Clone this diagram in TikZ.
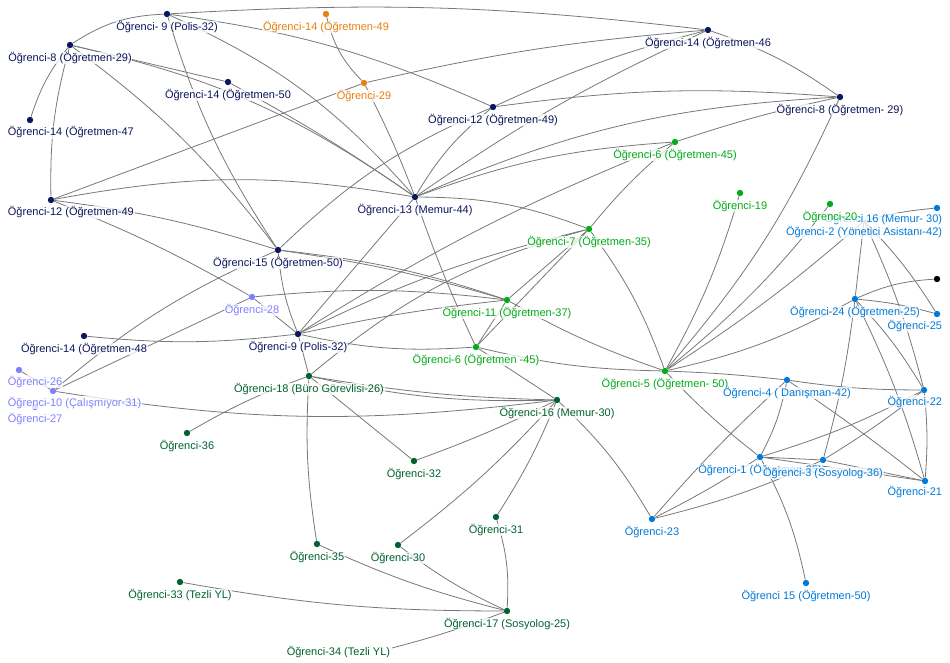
\documentclass[tikz,border=0pt]{standalone}
\usepackage{fontspec}
\setmainfont{Liberation Sans}
\usepackage{xcolor}
\usetikzlibrary{calc}
\pgfdeclarelayer{links}
\pgfsetlayers{links,main}
\definecolor{ogrNavy}{RGB}{12,22,92}
\definecolor{ogrOrange}{RGB}{232,128,12}
\definecolor{ogrLilac}{RGB}{128,128,255}
\definecolor{ogrGreen}{RGB}{0,172,24}
\definecolor{ogrPine}{RGB}{0,98,48}
\definecolor{ogrBlue}{RGB}{0,122,218}
\definecolor{linkgray}{RGB}{120,120,120}
\tikzset{
  dot/.style={circle,fill=#1,inner sep=0pt,minimum size=4.8pt},
  lbl/.style={text=#1,anchor=base,font=\fontsize{8.25}{10}\selectfont,
    fill=white,fill opacity=0.75,text opacity=1,inner sep=0.5pt},
  link/.style={draw=linkgray,line width=0.6pt}
}

\begin{document}
\begin{tikzpicture}[x=0.75pt,y=-0.75pt]
\useasboundingbox (0,0) rectangle (950,663);
% dots
\node[dot=ogrNavy] (n9top) at (167,14) {};
\node[dot=ogrNavy] (n8a) at (70,45) {};
\node[dot=ogrNavy] (n1447) at (30,120) {};
\node[dot=ogrNavy] (n1450) at (228,82) {};
\node[dot=ogrNavy] (n1249a) at (51,200) {};
\node[dot=ogrNavy] (n1446) at (708,30) {};
\node[dot=ogrNavy] (n1249b) at (493,107) {};
\node[dot=ogrNavy] (n8b) at (840,97) {};
\node[dot=ogrNavy] (n13) at (415,197) {};
\node[dot=ogrNavy] (n15) at (278,250) {};
\node[dot=ogrNavy] (n9) at (298,334) {};
\node[dot=ogrNavy] (n1448) at (84,336) {};
\node[dot=black] (blk) at (937,279) {};
\node[dot=ogrOrange] (o1449) at (326,14) {};
\node[dot=ogrOrange] (o29) at (364,83) {};
\node[dot=ogrLilac] (p28) at (252,297) {};
\node[dot=ogrLilac] (p26) at (19,370) {};
\node[dot=ogrLilac] (p10) at (53,391) {};
\node[dot=ogrLilac] (p27) at (35,407) {};
\node[dot=ogrGreen] (g645a) at (675,142) {};
\node[dot=ogrGreen] (g19) at (740,193) {};
\node[dot=ogrGreen] (g20) at (830,204) {};
\node[dot=ogrGreen] (g7) at (589,229) {};
\node[dot=ogrGreen] (g11) at (507,300) {};
\node[dot=ogrGreen] (g645b) at (476,347) {};
\node[dot=ogrGreen] (g5) at (665,371) {};
\node[dot=ogrPine] (d18) at (309,376) {};
\node[dot=ogrPine] (d16) at (557,400) {};
\node[dot=ogrPine] (d36) at (187,433) {};
\node[dot=ogrPine] (d32) at (414,461) {};
\node[dot=ogrPine] (d31) at (496,517) {};
\node[dot=ogrPine] (d35) at (317,544) {};
\node[dot=ogrPine] (d30) at (398,545) {};
\node[dot=ogrPine] (d33) at (180,582) {};
\node[dot=ogrPine] (d17) at (507,611) {};
\coordinate (d34) at (392,648);
\node[dot=ogrBlue] (b16) at (937,208) {};
\coordinate (b2) at (864,221);
\node[dot=ogrBlue] (b24) at (855,299) {};
\node[dot=ogrBlue] (b25) at (937,314) {};
\node[dot=ogrBlue] (b4) at (787,380) {};
\node[dot=ogrBlue] (b22) at (924,390) {};
\node[dot=ogrBlue] (b1) at (760,457) {};
\node[dot=ogrBlue] (b3) at (823,460) {};
\node[dot=ogrBlue] (b21) at (925,481) {};
\node[dot=ogrBlue] (b23) at (652,519) {};
\node[dot=ogrBlue] (b15) at (806,583) {};

\begin{pgfonlayer}{links}
% top part
\draw[link] (n9top) to[bend left=5] (n1446);
\draw[link] (n9top) to[bend left=8] (n1249b);
\draw[link] (n9top) to[bend left=12] (n13);
\draw[link] (n9top) to[bend right=8] (n15);
\draw[link] (n8a) to[bend left=15] (n9top);
\draw[link] (n8a) to[bend right=10] (n1447);
\draw[link] (n8a) to[bend right=8] (n1249a);
\draw[link] (n8a) -- (n1450);
\draw[link] (n8a) to[bend left=8] (n15);
\draw[link] (n8a) to[bend left=11] (n13);
\draw[link] (n1450) to[bend left=3] (n13);
\draw[link] (o1449) to[bend right=15] (o29);
\draw[link] (o29) -- (n1249a);
\draw[link] (o29) to[bend left=4] (n1446);
\draw[link] (o29) to[bend left=3] (n13);
\draw[link] (n13) to[bend left=10] (n1249b);
\draw[link] (n1249b) to[bend left=5] (n1446);
\draw[link] (n13) to[bend left=5] (n1446);
\draw[link] (n1249b) to[bend left=6] (n8b);
\draw[link] (n13) to[bend left=10] (n8b);
\draw[link] (n1446) to[bend left=8] (n8b);
\draw[link] (g645a) to[bend left=3] (n8b);
\draw[link] (g645a) to[bend right=5] (g7);
\draw[link] (n13) to[bend left=8] (g645a);
\draw[link] (n1249a) to[bend left=10] (n13);
\draw[link] (n13) to[bend left=10] (g7);
\draw[link] (n1249a) to[bend left=4] (p28);
\draw[link] (n1249a) to[bend left=5] (n15);
\draw[link] (n15) to[bend left=10] (n1249b);
\draw[link] (n15) to[bend left=6] (g11);
\draw[link] (n15) to[bend left=4] (g11);
\draw[link] (n15) to[bend right=8] (n9);
\draw[link] (n15) to[bend right=8] (p10);
% middle part
\draw[link] (p28) -- (p10);
\draw[link] (p26) -- (p10);
\draw[link] (p10) to[bend right=8] (d16);
\draw[link] (p28) -- (n9);
\draw[link] (p28) to[bend left=6] (g11);
\draw[link] (n1448) to[bend right=6] (n9);
\draw[link] (n9) -- (n13);
\draw[link] (n9) to[bend left=5] (g645a);
\draw[link] (n9) to[bend left=6] (g7);
\draw[link] (n9) to[bend left=3] (g11);
\draw[link] (n9) to[bend right=8] (g645b);
\draw[link] (n9) -- (d18);
\draw[link] (n13) to[bend right=3] (g645b);
\draw[link] (d18) to[bend left=12] (g7);
\draw[link] (g11) -- (g7);
\draw[link] (g645b) -- (g7);
\draw[link] (g11) -- (g645b);
\draw[link] (g11) to[bend right=5] (g5);
\draw[link] (g645b) to[bend right=6] (g5);
\draw[link] (g645b) -- (d16);
\draw[link] (g7) to[bend left=8] (g5);
\draw[link] (g19) to[bend left=6] (g5);
\draw[link] (g20) to[bend left=6] (g5);
\draw[link] (b2) to[bend left=4] (g5);
\draw[link] (n8b) to[bend left=8] (g5);
\draw[link] (b24) to[bend left=8] (g5);
\draw[link] (g5) to[bend left=2] (b4);
\draw[link] (g5) to[bend right=4] (b1);
% right part
\draw[link] (b16) to[bend right=5] (b2);
\draw[link] (b2) -- (b24);
\draw[link] (b2) to[bend left=5] (b22);
\draw[link] (b2) to[bend left=6] (b25);
\draw[link] (b24) to[bend left=10] (blk);
\draw[link] (b24) to[bend left=5] (b25);
\draw[link] (b24) to[bend left=6] (b22);
\draw[link] (b24) to[bend left=5] (b21);
\draw[link] (b24) to[bend left=4] (b3);
\draw[link] (b22) to[bend left=5] (b21);
\draw[link] (b4) to[bend right=4] (b22);
\draw[link] (b4) to[bend left=8] (b1);
\draw[link] (b4) to[bend right=3] (b23);
\draw[link] (b4) to[bend left=2] (b21);
\draw[link] (b22) to[bend left=5] (b1);
\draw[link] (b22) to[bend left=3] (b3);
\draw[link] (b1) -- (b3);
\draw[link] (b1) -- (b21);
\draw[link] (b3) -- (b21);
\draw[link] (b1) to[bend left=3] (b23);
\draw[link] (b23) to[bend right=5] (b3);
\draw[link] (b1) to[bend left=8] (b15);
\draw[link] (d16) to[bend left=8] (b23);
% lower part
\draw[link] (d18) to[bend right=4] (d16);
\draw[link] (d18) to[bend right=7] (d16);
\draw[link] (d18) to[bend right=5] (d36);
\draw[link] (d18) -- (d32);
\draw[link] (d18) to[bend right=6] (d35);
\draw[link] (d16) to[bend left=3] (d32);
\draw[link] (d16) to[bend left=5] (d30);
\draw[link] (d16) to[bend left=5] (d31);
\draw[link] (d31) to[bend left=10] (d17);
\draw[link] (d30) to[bend right=6] (d17);
\draw[link] (d35) to[bend right=5] (d17);
\draw[link] (d33) to[bend right=5] (d17);
\draw[link] (d34) to[bend right=3] (d17);
\end{pgfonlayer}

% labels
\node[lbl=ogrNavy] (n9top-t) at ([yshift=-12.3pt]n9top) {Öğrenci- 9 (Polis-32)};
\node[lbl=ogrNavy] (n8a-t) at ([yshift=-12.3pt]n8a) {Öğrenci-8 (Öğretmen-29)};
\node[lbl=ogrNavy,anchor=base west] (n1447-t) at (7,136) {Öğrenci-14 (Öğretmen-47};
\node[lbl=ogrNavy] (n1450-t) at ([yshift=-12.3pt]n1450) {Öğrenci-14 (Öğretmen-50};
\node[lbl=ogrNavy,anchor=base west] (n1249a-t) at (7,216) {Öğrenci-12 (Öğretmen-49};
\node[lbl=ogrNavy] (n1446-t) at ([yshift=-12.3pt]n1446) {Öğrenci-14 (Öğretmen-46};
\node[lbl=ogrNavy] (n1249b-t) at ([yshift=-12.3pt]n1249b) {Öğrenci-12 (Öğretmen-49)};
\node[lbl=ogrNavy] (n8b-t) at ([yshift=-12.3pt]n8b) {Öğrenci-8 (Öğretmen- 29)};
\node[lbl=ogrNavy] (n13-t) at ([yshift=-12.3pt]n13) {Öğrenci-13 (Memur-44)};
\node[lbl=ogrNavy] (n15-t) at ([yshift=-12.3pt]n15) {Öğrenci-15 (Öğretmen-50)};
\node[lbl=ogrNavy] (n9-t) at ([yshift=-12.3pt]n9) {Öğrenci-9 (Polis-32)};
\node[lbl=ogrNavy] (n1448-t) at ([yshift=-12.3pt]n1448) {Öğrenci-14 (Öğretmen-48};
\node[lbl=ogrOrange] (o1449-t) at ([yshift=-12.3pt]o1449) {Öğrenci-14 (Öğretmen-49};
\node[lbl=ogrOrange] (o29-t) at ([yshift=-12.3pt]o29) {Öğrenci-29};
\node[lbl=ogrLilac] (p28-t) at ([yshift=-12.3pt]p28) {Öğrenci-28};
\node[lbl=ogrLilac,anchor=base west] (p26-t) at (7,385) {Öğrenci-26};
\node[lbl=ogrLilac,anchor=base west] (p10-t) at (7,406) {Öğrenci-10 (Çalışmıyor-31)};
\node[lbl=ogrLilac,anchor=base west] (p27-t) at (7,422) {Öğrenci-27};
\node[lbl=ogrGreen] (g645a-t) at ([yshift=-12.3pt]g645a) {Öğrenci-6 (Öğretmen-45)};
\node[lbl=ogrGreen] (g19-t) at ([yshift=-12.3pt]g19) {Öğrenci-19};
\node[lbl=ogrBlue,anchor=base east] (b16-t) at (943,223) {Öğrenci 16 (Memur- 30)};
\node[lbl=ogrBlue,anchor=base east] (b2-t) at (943,236) {Öğrenci-2 (Yönetici Asistanı-42)};
\node[lbl=ogrGreen] (g20-t) at ([yshift=-12.3pt]g20) {Öğrenci-20};
\node[lbl=ogrGreen] (g7-t) at ([yshift=-12.3pt]g7) {Öğrenci-7 (Öğretmen-35)};
\node[lbl=ogrGreen] (g11-t) at ([yshift=-12.3pt]g11) {Öğrenci-11 (Öğretmen-37)};
\node[lbl=ogrGreen] (g645b-t) at ([yshift=-12.3pt]g645b) {Öğrenci-6 (Öğretmen -45)};
\node[lbl=ogrGreen] (g5-t) at ([yshift=-12.3pt]g5) {Öğrenci-5 (Öğretmen- 50)};
\node[lbl=ogrPine] (d18-t) at ([yshift=-12.3pt]d18) {Öğrenci-18 (Büro Görevlisi-26)};
\node[lbl=ogrPine] (d16-t) at ([yshift=-12.3pt]d16) {Öğrenci-16 (Memur-30)};
\node[lbl=ogrPine] (d36-t) at ([yshift=-12.3pt]d36) {Öğrenci-36};
\node[lbl=ogrPine] (d32-t) at ([yshift=-12.3pt]d32) {Öğrenci-32};
\node[lbl=ogrPine] (d31-t) at ([yshift=-12.3pt]d31) {Öğrenci-31};
\node[lbl=ogrPine] (d35-t) at ([yshift=-12.3pt]d35) {Öğrenci-35};
\node[lbl=ogrPine] (d30-t) at ([yshift=-12.3pt]d30) {Öğrenci-30};
\node[lbl=ogrPine] (d33-t) at ([yshift=-12.3pt]d33) {Öğrenci-33 (Tezli YL)};
\node[lbl=ogrPine] (d17-t) at ([yshift=-12.3pt]d17) {Öğrenci-17 (Sosyolog-25)};
\node[lbl=ogrPine,anchor=base east] (d34-t) at (391,655) {Öğrenci-34 (Tezli YL)};
\node[lbl=ogrBlue] (b24-t) at ([yshift=-12.3pt]b24) {Öğrenci-24 (Öğretmen-25)};
\node[lbl=ogrBlue,anchor=base east] (b25-t) at (943,329) {Öğrenci-25};
\node[lbl=ogrBlue] (b4-t) at ([yshift=-12.3pt]b4) {Öğrenci-4 ( Danışman-42)};
\node[lbl=ogrBlue,anchor=base east] (b22-t) at (943,405) {Öğrenci-22};
\node[lbl=ogrBlue] (b1-t) at ([yshift=-12.3pt]b1) {Öğrenci-1 (Öğretmen-35)};
\node[lbl=ogrBlue] (b3-t) at ([yshift=-12.3pt]b3) {Öğrenci-3 (Sosyolog-36)};
\node[lbl=ogrBlue,anchor=base east] (b21-t) at (943,495) {Öğrenci-21};
\node[lbl=ogrBlue] (b23-t) at ([yshift=-12.3pt]b23) {Öğrenci-23};
\node[lbl=ogrBlue] (b15-t) at ([yshift=-12.3pt]b15) {Öğrenci 15 (Öğretmen-50)};
\end{tikzpicture}
\end{document}
